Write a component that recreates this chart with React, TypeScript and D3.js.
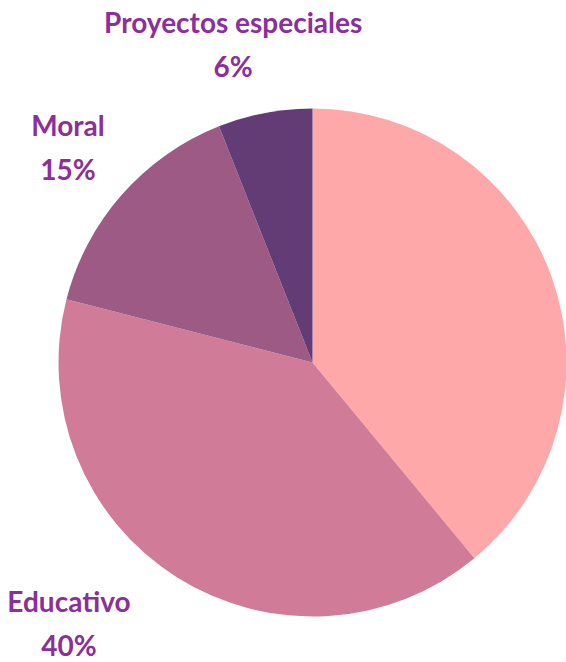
import { useEffect, useRef } from 'react';
import * as d3 from 'd3';

// slice order is clockwise from 12 o'clock
const categories = ['', 'Educativo', 'Moral', 'Proyectos especiales'];
const shares = [39, 40, 15, 6];
const colors = ['#FFA8AA', '#D07C98', '#9C5A85', '#633C76'];

// nudges applied to each label after placing it on the outer label arc
const labelShift: Record<string, [number, number]> = {
  Educativo: [-71, -9],
  Moral: [-3, -1],
  'Proyectos especiales': [-19, 0],
};

type Slice = { name: string; value: number; color: string };

export default function App() {
  const svgRef = useRef<SVGSVGElement | null>(null);

  useEffect(() => {
    if (!svgRef.current) return;
    const width = 566;
    const height = 662;
    const cx = 312.5;
    const cy = 362.5;
    const radius = 254;

    const data: Slice[] = categories.map((name, i) => ({ name, value: shares[i], color: colors[i] }));

    d3.select(svgRef.current).selectAll('*').remove();
    const svg = d3
      .select(svgRef.current)
      .attr('width', width)
      .attr('height', height)
      .append('g')
      .attr('transform', `translate(${cx},${cy})`);

    const pie = d3
      .pie<Slice>()
      .sort(null)
      .value((d) => d.value);
    const arcs = pie(data);

    const arc = d3.arc<d3.PieArcDatum<Slice>>().innerRadius(0).outerRadius(radius);
    const labelArc = d3.arc<d3.PieArcDatum<Slice>>().innerRadius(322).outerRadius(322);

    svg
      .selectAll('path')
      .data(arcs)
      .join('path')
      .attr('d', arc)
      .attr('fill', (d) => d.data.color);

    const labels = svg
      .selectAll('g.label')
      .data(arcs.filter((d) => d.data.name))
      .join('g')
      .attr('class', 'label')
      .attr('transform', (d) => {
        const [x, y] = labelArc.centroid(d);
        const [sx, sy] = labelShift[d.data.name] ?? [0, 0];
        return `translate(${x + sx},${y + sy})`;
      })
      .attr('font-family', 'Lato, "Noto Sans", sans-serif')
      .attr('font-weight', 700)
      .attr('font-size', 28)
      .attr('fill', '#8C2E9B')
      .attr('text-anchor', 'middle');

    labels
      .append('text')
      .attr('y', -13)
      .text((d) => d.data.name);
    labels
      .append('text')
      .attr('y', 31)
      .text((d) => `${d.data.value}%`);
  }, []);

  return <svg ref={svgRef} style={{ position: 'absolute', left: 0, top: 0 }}></svg>;
}
